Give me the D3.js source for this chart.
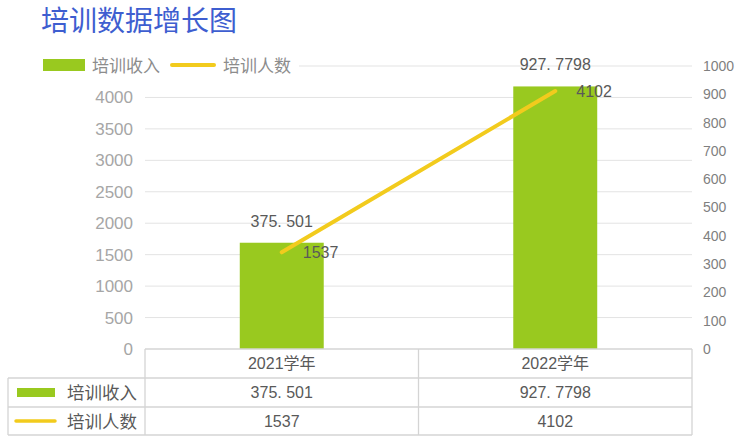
<!DOCTYPE html>
<html>
<head>
<meta charset="utf-8">
<script src="https://cdn.jsdelivr.net/npm/d3@7"></script>
<style>
  html, body { margin: 0; padding: 0; background: #fff; }
  svg { display: block; }
  text { font-family: "Liberation Sans", Arial, "Noto Sans CJK SC", sans-serif; }
  .cjk { font-family: "Liberation Sans", "Noto Sans CJK SC", sans-serif; }
</style>
</head>
<body>
<svg id="chart" width="743" height="436"></svg>
<script>
// ---- data ----
const title = "培训数据增长图";
const categories = ["2021学年", "2022学年"];
const incomeName = "培训收入";
const incomeValues = [375.501, 927.7798];
const peopleName = "培训人数";
const peopleValues = [1537, 4102];
const leftTicks = [0, 500, 1000, 1500, 2000, 2500, 3000, 3500, 4000];
const leftMax = 4500;
const rightTicks = [0, 100, 200, 300, 400, 500, 600, 700, 800, 900, 1000];

// ---- layout ----
const plotL = 145, plotR = 692, plotT = 66, plotB = 349;
const green = "#99C91F", yellow = "#F2CB1D";
const grid = "#E3E3E3", border = "#D4D4D4", textCol = "#595959";

const svg = d3.select("#chart");

const x = d3.scaleBand().domain(categories).range([plotL, plotR]).padding(0);
const yL = d3.scaleLinear().domain([0, leftMax]).range([plotB, plotT]);
const yR = d3.scaleLinear().domain([0, 1000]).range([plotB, plotT]);
const fmt = v => String(v).replace(".", ". ");

// title
svg.append("text").attr("class", "cjk")
  .attr("x", 41).attr("y", 31)
  .attr("font-size", 28).attr("fill", "#3E5ED0")
  .text(title);

// gridlines (left axis)
svg.append("g").selectAll("line").data([...leftTicks.filter(d => d > 0), leftMax]).join("line")
  .attr("x1", plotL).attr("x2", plotR)
  .attr("y1", d => yL(d)).attr("y2", d => yL(d))
  .attr("stroke", grid).attr("stroke-width", 1);

// left axis labels
const gL = svg.append("g").attr("transform", `translate(${plotL - 12},0)`)
  .call(d3.axisLeft(yL).tickValues(leftTicks).tickFormat(d3.format("d")).tickSize(0).tickPadding(0));
gL.select(".domain").remove();
gL.selectAll("text").attr("font-size", 17).attr("fill", "#A6A6A6")
  .attr("font-family", "Liberation Sans, Arial, sans-serif");

// right axis labels
const gR = svg.append("g").attr("transform", `translate(${plotR + 11},0)`)
  .call(d3.axisRight(yR).tickValues(rightTicks).tickFormat(d3.format("d")).tickSize(0).tickPadding(0));
gR.select(".domain").remove();
gR.selectAll("text").attr("font-size", 14).attr("fill", "#7F7F7F")
  .attr("font-family", "Liberation Sans, Arial, sans-serif");

// bars (right axis)
const barW = x.bandwidth() * 0.307;
svg.append("g").selectAll("rect").data(categories).join("rect")
  .attr("x", d => x(d) + x.bandwidth() / 2 - barW / 2)
  .attr("width", barW)
  .attr("y", (d, i) => yR(incomeValues[i]))
  .attr("height", (d, i) => plotB - yR(incomeValues[i]))
  .attr("fill", green);

// bar labels
svg.append("g").selectAll("text").data(categories).join("text")
  .attr("x", d => x(d) + x.bandwidth() / 2)
  .attr("y", (d, i) => yR(incomeValues[i]) - 16)
  .attr("text-anchor", "middle").attr("font-size", 16).attr("fill", textCol)
  .text((d, i) => fmt(incomeValues[i]));

// line (left axis)
const line = d3.line()
  .x((d, i) => x(categories[i]) + x.bandwidth() / 2)
  .y(d => yL(d));
svg.append("path").datum(peopleValues)
  .attr("d", line).attr("fill", "none")
  .attr("stroke", yellow).attr("stroke-width", 4).attr("stroke-linecap", "round");

// line labels
svg.append("g").selectAll("text").data(peopleValues).join("text")
  .attr("x", (d, i) => x(categories[i]) + x.bandwidth() / 2 + 21)
  .attr("y", d => yL(d) + 6)
  .attr("font-size", 16).attr("fill", textCol)
  .text(d => d);

// legend (top) with white background
const lg = svg.append("g");
lg.append("rect").attr("x", 38).attr("y", 54).attr("width", 261).attr("height", 24).attr("fill", "#fff");
lg.append("rect").attr("x", 43).attr("y", 59).attr("width", 42).attr("height", 12).attr("fill", green);
lg.append("text").attr("class", "cjk").attr("x", 92).attr("y", 72)
  .attr("font-size", 17).attr("fill", "#8C8C8C").text(incomeName);
lg.append("line").attr("x1", 172).attr("x2", 214).attr("y1", 65).attr("y2", 65)
  .attr("stroke", yellow).attr("stroke-width", 4).attr("stroke-linecap", "round");
lg.append("text").attr("class", "cjk").attr("x", 223).attr("y", 72)
  .attr("font-size", 17).attr("fill", "#8C8C8C").text(peopleName);

// data table
const tblL = 8, rowTops = [349, 378, 407, 435];
const tb = svg.append("g").attr("stroke", border).attr("stroke-width", 1.3).attr("fill", "none");
tb.append("line").attr("x1", plotL).attr("x2", plotR).attr("y1", rowTops[0]).attr("y2", rowTops[0]);
[1, 2, 3].forEach(r => tb.append("line").attr("x1", tblL).attr("x2", plotR)
  .attr("y1", rowTops[r]).attr("y2", rowTops[r]));
tb.append("line").attr("x1", tblL).attr("x2", tblL).attr("y1", rowTops[1]).attr("y2", rowTops[3]);
[plotL, ...categories.slice(1).map(c => x(c)), plotR].forEach(xx =>
  tb.append("line").attr("x1", xx).attr("x2", xx).attr("y1", rowTops[0]).attr("y2", rowTops[3]));

// header row
svg.append("g").selectAll("text").data(categories).join("text").attr("class", "cjk")
  .attr("x", d => x(d) + x.bandwidth() / 2).attr("y", 369)
  .attr("text-anchor", "middle").attr("font-size", 16).attr("fill", textCol).text(d => d);
// income row
svg.append("g").selectAll("text").data(incomeValues).join("text")
  .attr("x", (d, i) => x(categories[i]) + x.bandwidth() / 2).attr("y", 398)
  .attr("text-anchor", "middle").attr("font-size", 16).attr("fill", textCol).text(d => fmt(d));
// people row
svg.append("g").selectAll("text").data(peopleValues).join("text")
  .attr("x", (d, i) => x(categories[i]) + x.bandwidth() / 2).attr("y", 427)
  .attr("text-anchor", "middle").attr("font-size", 16).attr("fill", textCol).text(d => d);

// table legend keys
svg.append("rect").attr("x", 17).attr("y", 388).attr("width", 38).attr("height", 9).attr("fill", green);
svg.append("text").attr("class", "cjk").attr("x", 67).attr("y", 399)
  .attr("font-size", 17.5).attr("fill", textCol).text(incomeName);
svg.append("line").attr("x1", 16).attr("x2", 55).attr("y1", 421).attr("y2", 421)
  .attr("stroke", yellow).attr("stroke-width", 3.5).attr("stroke-linecap", "round");
svg.append("text").attr("class", "cjk").attr("x", 67).attr("y", 428)
  .attr("font-size", 17.5).attr("fill", textCol).text(peopleName);
</script>
</body>
</html>
